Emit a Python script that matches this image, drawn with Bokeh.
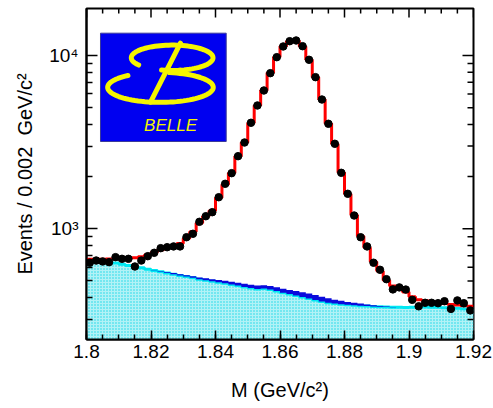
import math

from bokeh.plotting import figure
from bokeh.models import FixedTicker, Range1d, Label
from bokeh.embed import file_html
from bokeh.resources import INLINE

# ---- histogram binning: 60 bins of 0.002 GeV/c^2 between 1.80 and 1.92
mass_lo = 1.80
mass_hi = 1.92
bin_width = 0.002

# observed events per bin
events = [637, 656, 648, 642, 686, 671, 671, 606, 656, 695,
          727, 773, 783, 791, 791, 894, 936, 1097, 1182, 1247,
          1521, 1818, 2094, 2624, 3147, 4090, 5147, 6281, 7907, 9779,
          11272, 12093, 12207, 11317, 9444, 7499, 5572, 4036, 3094, 2104,
          1592, 1193, 894, 791, 637, 580, 512, 447, 459, 446,
          389, 357, 374, 374, 372, 382, 345, 386, 372, 338]

# total fit (signal + backgrounds)
fit_total = [668, 668, 668, 669, 670, 672, 675, 680, 690, 708,
             732, 756, 776, 790, 822, 880, 960, 1080, 1180, 1270,
             1510, 1800, 2100, 2620, 3150, 4080, 5150, 6300, 7950, 9800,
             11300, 12100, 12150, 11250, 9450, 7500, 5570, 4050, 3080, 2110,
             1590, 1200, 905, 780, 645, 570, 505, 468, 452, 432,
             405, 390, 385, 381, 377, 370, 366, 363, 360, 357]

# combinatorial background
bkg_comb = [645, 645, 643, 640, 635, 625, 615, 605, 595, 585,
            575, 565, 555, 547, 538, 530, 522, 512, 505, 498,
            492, 485, 477, 470, 462, 455, 450, 452, 446, 438,
            428, 420, 412, 404, 396, 388, 380, 374, 370, 367,
            364, 362, 360, 358, 356, 355, 354, 353, 352, 351,
            352, 353, 354, 353, 352, 350, 349, 348, 346, 344]

# peaking background, stacked on top of the combinatorial one
bkg_peak = [0, 0, 0, 0, 0, 0, 0, 0, 0, 0,
            2, 4, 6, 8, 9, 10, 11, 12, 13, 14,
            15, 16, 17, 18, 19, 20, 21, 21, 21, 22,
            23, 24, 25, 26, 27, 27, 26, 23, 20, 17,
            14, 12, 10, 8, 6, 4, 2, 1, 0, 0,
            0, 0, 0, 0, 0, 0, 0, 0, 0, 0]

x_tick_values = [1.8, 1.82, 1.84, 1.86, 1.88, 1.9, 1.92]
x_tick_labels = ["1.8", "1.82", "1.84", "1.86", "1.88", "1.9", "1.92"]
y_tick_values = [1000, 10000]
y_tick_labels = ["10\u00b3", "10\u2074"]

n_bins = len(events)
edges = [round(mass_lo + i * bin_width, 4) for i in range(n_bins + 1)]
centers = [round(mass_lo + (i + 0.5) * bin_width, 4) for i in range(n_bins)]


def ext(vals):
    """repeat last value so a step drawn with mode='after' covers the final bin"""
    return list(vals) + [vals[-1]]


comb_top = ext(bkg_comb)
stack_top = ext([c + k for c, k in zip(bkg_comb, bkg_peak)])
fit_top = ext(fit_total)

FONT = "Liberation Sans"
y_lo, y_hi = 229.7, 18670.0
FRAME_W, FRAME_H = 387, 331

p = figure(width=493, height=408, y_axis_type="log",
           x_range=Range1d(mass_lo, mass_hi), y_range=Range1d(y_lo, y_hi),
           output_backend="svg", toolbar_location=None,
           min_border_left=86, min_border_right=20,
           min_border_top=8, min_border_bottom=69)
p.grid.visible = False
p.outline_line_color = "black"
p.outline_line_width = 2
p.background_fill_color = "white"
p.border_fill_color = "white"

x_minor = [round(mass_lo + 0.005 * i, 3) for i in range(25)]
y_minor = [m * 10 ** d for d in (2, 3, 4) for m in range(2, 10)]
xticker = FixedTicker(ticks=x_tick_values, minor_ticks=x_minor)
yticker = FixedTicker(ticks=y_tick_values, minor_ticks=y_minor)


def style_axis(ax, ticker, major_len, minor_len, labels):
    ax.ticker = ticker
    ax.axis_line_color = "black"
    ax.axis_line_width = 2
    ax.major_tick_line_color = "black"
    ax.minor_tick_line_color = "black"
    ax.major_tick_line_width = 1.5
    ax.minor_tick_line_width = 1.5
    ax.major_tick_in = major_len
    ax.major_tick_out = 0
    ax.minor_tick_in = minor_len
    ax.minor_tick_out = 0
    ax.major_label_overrides = labels
    ax.major_label_text_font = FONT
    ax.major_label_text_font_size = "19px"
    ax.major_label_text_color = "black"
    ax.axis_label_text_font = FONT
    ax.axis_label_text_font_style = "normal"
    ax.axis_label_text_font_size = "20px"
    ax.axis_label_text_color = "black"


xax = p.xaxis[0]
style_axis(xax, xticker, 9, 5, dict(zip(x_tick_values, x_tick_labels)))
xax.major_label_standoff = 5
xax.axis_label = "M (GeV/c\u00b2)"
xax.axis_label_standoff = 18

yax = p.yaxis[0]
style_axis(yax, yticker, 11, 6, dict(zip(y_tick_values, y_tick_labels)))
yax.major_label_standoff = 8
yax.axis_label = "Events / 0.002\u00a0 GeV/c\u00b2"
yax.axis_label_standoff = 10

# inward ticks along the top and right edges of the frame
x_per_px = (mass_hi - mass_lo) / FRAME_W
dec_per_px = math.log10(y_hi / y_lo) / FRAME_H


def top_ticks(vals, length):
    y_end = y_hi / 10 ** (length * dec_per_px)
    p.segment(x0=vals, y0=[y_hi] * len(vals), x1=vals, y1=[y_end] * len(vals),
              line_color="black", line_width=1.5)


def right_ticks(vals, length):
    vals = [v for v in vals if y_lo < v < y_hi]
    x_end = mass_hi - length * x_per_px
    p.segment(x0=[mass_hi] * len(vals), y0=vals, x1=[x_end] * len(vals), y1=vals,
              line_color="black", line_width=1.5)


# combinatorial background: dotted cyan fill with a solid cyan edge
floor = [100.0] * (n_bins + 1)
p.varea_step(x=edges, y1=floor, y2=comb_top, step_mode="after",
             fill_color="#b2f2f6", hatch_pattern="dot", hatch_color="#12d6e6",
             hatch_scale=3, hatch_weight=1.2)
p.step(x=edges, y=comb_top, mode="after", line_color="#00e8f2", line_width=3)
# peaking background on top
p.varea_step(x=edges, y1=comb_top, y2=stack_top, step_mode="after",
             fill_color="#0a0adc")

# total fit
p.step(x=edges, y=fit_top, mode="after", line_color="#ff0000", line_width=3)

# data
p.scatter(x=centers, y=events, size=7.5, marker="circle",
          fill_color="black", line_color="black")

top_ticks(x_tick_values, 9)
top_ticks([v for v in x_minor if v not in x_tick_values], 5)
right_ticks(y_tick_values, 11)
right_ticks(y_minor, 6)

# ---- Belle logo, drawn in a local unit box mapped onto the frame
box_x0, box_x1 = 1.80434, 1.84332
box_y0, box_y1 = 3189.0, 13450.0
lg0, lg1 = math.log10(box_y0), math.log10(box_y1)


def to_data(u, v):
    return (box_x0 + u * (box_x1 - box_x0), 10 ** (lg0 + v * (lg1 - lg0)))


p.quad(left=[box_x0], right=[box_x1], bottom=[box_y0], top=[box_y1],
       fill_color="#0000f0", line_color="#3a3a9a", line_width=1)


def arc(cu, cv, au, bv, t0, t1, n=80):
    us, vs = [], []
    for i in range(n + 1):
        t = math.radians(t0 + (t1 - t0) * i / n)
        x, y = to_data(cu + au * math.cos(t), cv + bv * math.sin(t))
        us.append(x)
        vs.append(y)
    return us, vs


yellow = "#f5f500"
for xs, ys in (arc(0.570, 0.773, 0.325, 0.117, 215, -105),
               arc(0.477, 0.500, 0.420, 0.1385, 80, -232)):
    p.line(xs, ys, line_color=yellow, line_width=5, line_cap="round")

d0 = to_data(0.636, 0.908)
d1 = to_data(0.398, 0.363)
p.line([d0[0], d1[0]], [d0[1], d1[1]], line_color=yellow, line_width=5,
       line_cap="round")

bx, by = to_data(0.557, 0.152)
p.add_layout(Label(x=bx, y=by, text="BELLE", text_color=yellow,
                   text_font=FONT,
                   text_font_style="italic", text_font_size="17px",
                   text_align="center", text_baseline="middle"))

open("out.html", "w").write(file_html(p, INLINE))
